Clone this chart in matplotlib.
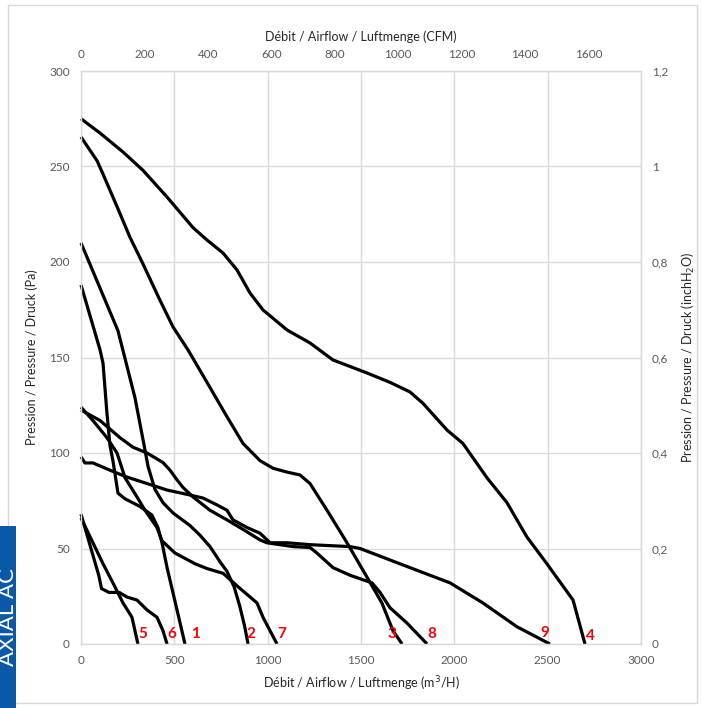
import matplotlib
matplotlib.use("Agg")
import matplotlib.pyplot as plt
from matplotlib.patches import Rectangle
from matplotlib.ticker import FuncFormatter, MultipleLocator

plt.rcParams['font.family'] = ['Lato', 'DejaVu Sans']

# ---- data (m3/h , Pa) ----
c4_x = [0, 102, 225, 332, 461, 600, 675, 761, 836, 905, 975, 1104, 1227, 1350, 1532, 1655, 1762, 1832, 1961, 2046, 2175, 2282, 2389, 2496, 2636, 2700]
c4_y = [275, 267.5, 257.6, 248, 234, 218, 211.5, 204.7, 195.8, 183.8, 174.9, 164.4, 157.6, 148.7, 141.9, 137, 132, 126, 112, 105, 87, 74, 56, 42, 23, 0]

c3_x = [0, 86, 118, 193, 262, 332, 423, 493, 573, 675, 782, 868, 959, 1029, 1104, 1173, 1227, 1318, 1425, 1532, 1612, 1671, 1720]
c3_y = [265.5, 253, 246, 229, 213, 199, 180, 166, 154, 137, 119, 105, 96, 92, 90, 88.5, 84, 70, 53, 35, 21.5, 7, 0]

c9_x = [0, 21, 64, 155, 246, 354, 461, 584, 654, 729, 782, 814, 889, 959, 1013, 1104, 1227, 1441, 1495, 1655, 1762, 1977, 2153, 2336, 2512]
c9_y = [98, 94.8, 94.8, 91, 87.4, 84, 80.6, 78, 76.4, 72.8, 70, 65, 61, 58, 53, 53, 52, 51, 50, 44, 40, 32, 21.5, 9, 0]

c8_x = [0, 102, 209, 279, 354, 439, 477, 514, 546, 600, 691, 782, 868, 959, 996, 1136, 1227, 1264, 1350, 1441, 1559, 1602, 1655, 1746, 1854]
c8_y = [122.5, 117, 108, 103, 100, 95, 91, 86, 82, 77, 70, 65, 60, 54.5, 53, 51, 50.5, 47.6, 40, 36, 32, 27, 19, 11, 0]

c7_x = [0, 64, 139, 193, 236, 300, 343, 407, 434, 504, 611, 675, 761, 841, 943, 975, 1050]
c7_y = [124, 117, 108, 100, 87, 77, 70, 61, 54, 47.6, 42, 39.5, 37, 30, 21.5, 14, 0]

c1_x = [0, 102, 118, 138, 155, 171, 198, 236, 316, 380, 412, 434, 461, 514, 557]
c1_y = [188, 154, 147, 122, 104, 96, 79, 76, 72, 67.5, 61, 53, 40, 18, 0]

c2_x = [0, 198, 289, 343, 359, 396, 439, 493, 584, 637, 691, 745, 782, 820, 850, 875, 895]
c2_y = [210, 164, 129, 101.5, 93, 81, 74, 68.6, 62, 57, 51, 43, 38, 30, 20, 10, 0]

c6_x = [0, 95, 110, 150, 205, 246, 300, 354, 407, 439, 461]
c6_y = [68, 36, 29, 27, 27, 24.6, 23, 17.8, 14, 7, 0]

c5_x = [0, 64, 118, 171, 225, 273, 305]
c5_y = [66, 53, 42, 32, 21.5, 14, 0]

curves = [(c4_x, c4_y), (c3_x, c3_y), (c9_x, c9_y), (c8_x, c8_y), (c7_x, c7_y),
          (c1_x, c1_y), (c2_x, c2_y), (c6_x, c6_y), (c5_x, c5_y)]

label_text = ['5', '6', '1', '2', '7', '3', '8', '9', '4']
label_x = [332, 487, 611, 911, 1077, 1666, 1880, 2486, 2727]
label_y = [5, 5, 5, 5, 5, 5, 5, 6, 4]

# ---- figure ----
fig = plt.figure(figsize=(7.02, 7.08), dpi=100)
W, H = 702, 708
ax = fig.add_axes([81 / W, 1 - 644 / H, 560 / W, 573 / H])

grid_c = '#d9d9d9'
ax.set_xlim(0, 3000)
ax.set_ylim(0, 300)
ax.xaxis.set_major_locator(MultipleLocator(500))
ax.yaxis.set_major_locator(MultipleLocator(50))
ax.grid(True, color=grid_c, linewidth=1.0)
ax.set_axisbelow(True)
for s in ax.spines.values():
    s.set_color(grid_c)
    s.set_linewidth(1.0)
ax.tick_params(length=0, labelsize=8.5, labelcolor='#595959', pad=8)

for xs, ys in curves:
    ax.plot(xs, ys, color='black', linewidth=2.3, solid_joinstyle='round',
            solid_capstyle='butt', clip_on=False)

for t, lx, ly in zip(label_text, label_x, label_y):
    ax.text(lx, ly, t, color='#ff0000', fontsize=11, fontweight='bold',
            ha='center', va='center')

ax.set_xlabel('Débit / Airflow / Luftmenge (m$^3$/H)', fontsize=9, color='#262626', labelpad=6)
ax.set_ylabel('Pression / Pressure / Druck (Pa)', fontsize=9, color='#262626', labelpad=8)

# top axis (CFM)
top = ax.secondary_xaxis('top', functions=(lambda v: v / 1.699, lambda v: v * 1.699))
top.set_xticks([0, 200, 400, 600, 800, 1000, 1200, 1400, 1600])
top.tick_params(length=0, labelsize=8.5, labelcolor='#595959', pad=8)
top.spines['top'].set_visible(False)
top.set_xlabel('Débit / Airflow / Luftmenge (CFM)', fontsize=9, color='#262626', labelpad=6)

# right axis (inch H2O)
right = ax.secondary_yaxis('right', functions=(lambda v: v / 250.0, lambda v: v * 250.0))
right.set_yticks([0, 0.2, 0.4, 0.6, 0.8, 1.0, 1.2])
right.yaxis.set_major_formatter(FuncFormatter(lambda v, p: ('%g' % round(v, 1)).replace('.', ',')))
right.tick_params(length=0, labelsize=8.5, labelcolor='#595959', pad=8)
right.spines['right'].set_visible(False)
right.set_ylabel('Pression / Pressure / Druck (inchH$_2$O)', fontsize=9, color='#262626', labelpad=8)

# chart border
fig.patches.append(Rectangle((8 / W, 5 / H), (697 - 8) / W, (703 - 5) / H,
                             transform=fig.transFigure, fill=False,
                             edgecolor=grid_c, linewidth=1.0))
# blue side tab
fig.patches.append(Rectangle((0, 0), 16 / W, (708 - 526) / H, transform=fig.transFigure,
                             facecolor='#0a59a8', edgecolor='none'))
fig.text(8.5 / W, 1 - 617 / H, 'AXIAL AC', rotation=90, color='white', fontsize=16,
         fontweight='normal', ha='center', va='center')

fig.savefig('out.png', dpi=100)
